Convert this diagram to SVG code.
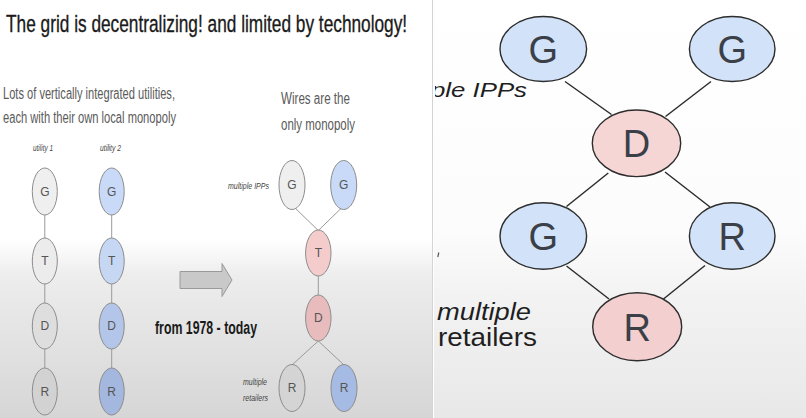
<svg xmlns="http://www.w3.org/2000/svg" width="806" height="418" viewBox="0 0 806 418">
<defs>
<linearGradient id="bgL" gradientUnits="userSpaceOnUse" x1="0" y1="0" x2="0" y2="418">
<stop offset="0" stop-color="#ffffff"/>
<stop offset="0.57" stop-color="#ffffff"/>
<stop offset="0.66" stop-color="#ededed"/>
<stop offset="1" stop-color="#d6d6d6"/>
</linearGradient>
<linearGradient id="bgR" gradientUnits="userSpaceOnUse" x1="0" y1="0" x2="0" y2="418">
<stop offset="0" stop-color="#ffffff"/>
<stop offset="0.55" stop-color="#fcfcfc"/>
<stop offset="0.7" stop-color="#f3f3f3"/>
<stop offset="1" stop-color="#e8e8e8"/>
</linearGradient>
<clipPath id="clipR"><rect x="435" y="0" width="371" height="418"/></clipPath>
<style>
.t{font-family:"Liberation Sans",Arial,sans-serif}
.sl{font-family:"Liberation Sans",Arial,sans-serif;font-size:12px;fill:#555;text-anchor:middle}
.big{stroke:#2d2d2d;stroke-width:1.4}
.bl{font-family:"Liberation Sans",Arial,sans-serif;font-size:38px;fill:#3a3f48;text-anchor:middle}
.c1{stroke:#9a9a9a;stroke-width:1;fill:none}
.c2{stroke:#2d2d2d;stroke-width:1.5;fill:none}
</style>
</defs>
<rect x="0" y="0" width="432" height="418" fill="url(#bgL)"/>
<rect x="434" y="0" width="372" height="418" fill="url(#bgR)"/>
<line x1="432.5" y1="0" x2="432.5" y2="418" stroke="#d4d4d4" stroke-width="1"/>

<text class="t" transform="translate(6,32) scale(0.705,1)" font-size="24.5" fill="#1a1a1a" stroke="#1a1a1a" stroke-width="0.35">The grid is decentralizing! and limited by technology!</text>
<text class="t" x="3" y="98.5" font-size="16" fill="#5a5a5a" textLength="172" lengthAdjust="spacingAndGlyphs">Lots of vertically integrated utilities,</text>
<text class="t" x="3" y="123" font-size="16" fill="#5a5a5a" textLength="173" lengthAdjust="spacingAndGlyphs">each with their own local monopoly</text>
<text class="t" x="281" y="103.5" font-size="16" fill="#5a5a5a" textLength="69" lengthAdjust="spacingAndGlyphs">Wires are the</text>
<text class="t" x="281" y="129.5" font-size="16" fill="#5a5a5a" textLength="74" lengthAdjust="spacingAndGlyphs">only monopoly</text>
<text class="t" x="33" y="150.5" font-size="9" font-style="italic" fill="#444" textLength="20" lengthAdjust="spacingAndGlyphs">utility 1</text>
<text class="t" x="100" y="150.5" font-size="9" font-style="italic" fill="#444" textLength="21" lengthAdjust="spacingAndGlyphs">utility 2</text>
<text class="t" x="228" y="189" font-size="8.5" font-style="italic" fill="#444" textLength="41" lengthAdjust="spacingAndGlyphs">multiple IPPs</text>
<text class="t" x="243" y="385" font-size="8.5" font-style="italic" fill="#444" textLength="24" lengthAdjust="spacingAndGlyphs">multiple</text>
<text class="t" x="243" y="401" font-size="8.5" font-style="italic" fill="#444" textLength="25" lengthAdjust="spacingAndGlyphs">retailers</text>
<text class="t" x="155" y="334" font-size="18" font-weight="bold" fill="#1a1a1a" textLength="102" lengthAdjust="spacingAndGlyphs">from 1978 - today</text>

<polygon points="180,271.5 222,271.5 222,263.5 232,280 222,296.5 222,288.5 180,288.5" fill="#c9c9c9" stroke="#9a9a9a" stroke-width="1"/>

<g id="connectors">
<line class="c1" x1="44.8" y1="215" x2="44.8" y2="238"/>
<line class="c1" x1="44.8" y1="284" x2="44.8" y2="303"/>
<line class="c1" x1="44.8" y1="349" x2="44.8" y2="368"/>
<line class="c1" x1="111.7" y1="215" x2="111.7" y2="238"/>
<line class="c1" x1="111.7" y1="284" x2="111.7" y2="303"/>
<line class="c1" x1="111.7" y1="349" x2="111.7" y2="368"/>
<line class="c1" x1="294" y1="207" x2="318.3" y2="230.5"/>
<line class="c1" x1="342.5" y1="207" x2="318.3" y2="230.5"/>
<line class="c1" x1="318.3" y1="276" x2="318.3" y2="295"/>
<line class="c1" x1="318.3" y1="341" x2="292" y2="365"/>
<line class="c1" x1="318.3" y1="341" x2="344" y2="365"/>
<line class="c2" x1="565" y1="81.5" x2="611.5" y2="114.5"/>
<line class="c2" x1="711" y1="81.5" x2="665.5" y2="116.5"/>
<line class="c2" x1="608.3" y1="173" x2="566.5" y2="206.5"/>
<line class="c2" x1="665" y1="172" x2="710" y2="207"/>
<line class="c2" x1="566.5" y1="266" x2="609" y2="299"/>
<line class="c2" x1="705" y1="265.5" x2="663.5" y2="299"/>
</g>

<g id="u1G"><ellipse cx="44.8" cy="191.5" rx="12.5" ry="23.5" fill="#efefef" stroke="#8c8c8c"/><text class="sl" x="44.8" y="195.5">G</text></g>
<g id="u1T"><ellipse cx="44.8" cy="261" rx="12.5" ry="23" fill="#ececec" stroke="#8c8c8c"/><text class="sl" x="44.8" y="265">T</text></g>
<g id="u1D"><ellipse cx="44.8" cy="326" rx="12.5" ry="23" fill="#dedede" stroke="#8c8c8c"/><text class="sl" x="44.8" y="330">D</text></g>
<g id="u1R"><ellipse cx="44.8" cy="391.5" rx="12.5" ry="23.5" fill="#d2d2d2" stroke="#8c8c8c"/><text class="sl" x="44.8" y="395.5">R</text></g>
<g id="u2G"><ellipse cx="111.7" cy="191.5" rx="12.5" ry="23.5" fill="#c9daf8" stroke="#8c8c8c"/><text class="sl" x="111.7" y="195.5">G</text></g>
<g id="u2T"><ellipse cx="111.7" cy="261" rx="12.5" ry="23" fill="#c6d7f4" stroke="#8c8c8c"/><text class="sl" x="111.7" y="265">T</text></g>
<g id="u2D"><ellipse cx="111.7" cy="326" rx="12.5" ry="23" fill="#b3c6ea" stroke="#8c8c8c"/><text class="sl" x="111.7" y="330">D</text></g>
<g id="u2R"><ellipse cx="111.7" cy="391.5" rx="12.5" ry="23.5" fill="#a3b7df" stroke="#8c8c8c"/><text class="sl" x="111.7" y="395.5">R</text></g>

<g id="mG1"><ellipse cx="292" cy="185" rx="13" ry="24.5" fill="#efefef" stroke="#8c8c8c"/><text class="sl" x="292" y="189">G</text></g>
<g id="mG2"><ellipse cx="343.7" cy="185" rx="13" ry="24.5" fill="#c9daf8" stroke="#8c8c8c"/><text class="sl" x="343.7" y="189">G</text></g>
<g id="mT"><ellipse cx="318.3" cy="253" rx="12.7" ry="23" fill="#f4cccc" stroke="#8c8c8c"/><text class="sl" x="318.3" y="257">T</text></g>
<g id="mD"><ellipse cx="318.3" cy="318" rx="12.7" ry="23" fill="#e8bcbc" stroke="#8c8c8c"/><text class="sl" x="318.3" y="322">D</text></g>
<g id="mR1"><ellipse cx="292" cy="388" rx="13" ry="23.5" fill="#d4d4d4" stroke="#8c8c8c"/><text class="sl" x="292" y="392">R</text></g>
<g id="mR2"><ellipse cx="344" cy="388" rx="13" ry="23.5" fill="#a6bbe3" stroke="#8c8c8c"/><text class="sl" x="344" y="392">R</text></g>

<g clip-path="url(#clipR)">
<text class="t" x="527" y="96.5" font-size="20" font-style="italic" fill="#1f1f1f" text-anchor="end" textLength="96" lengthAdjust="spacingAndGlyphs">ple IPPs</text>
</g>
<text class="t" x="437" y="320" font-size="23" font-style="italic" fill="#1f1f1f" textLength="94" lengthAdjust="spacingAndGlyphs">multiple</text>
<text class="t" x="438" y="346" font-size="25" fill="#1f1f1f" textLength="99" lengthAdjust="spacingAndGlyphs">retailers</text>
<line x1="438.8" y1="252.5" x2="437.8" y2="257" stroke="#555" stroke-width="1.2"/>

<g id="G1"><ellipse class="big" cx="543.3" cy="49" rx="43.3" ry="32.5" fill="#d2e2f8"/><text class="bl" x="543.3" y="62.5">G</text></g>
<g id="G2"><ellipse class="big" cx="732.2" cy="49" rx="42.8" ry="32.5" fill="#d2e2f8"/><text class="bl" x="732.2" y="62.5">G</text></g>
<g id="D"><ellipse class="big" cx="636.5" cy="143.3" rx="44.2" ry="33.3" fill="#f6d5d5"/><text class="bl" x="636.5" y="157">D</text></g>
<g id="G3"><ellipse class="big" cx="543.3" cy="236" rx="43.3" ry="33.3" fill="#d2e2f8"/><text class="bl" x="543.3" y="249.5">G</text></g>
<g id="R1"><ellipse class="big" cx="732.2" cy="236" rx="42.8" ry="33.3" fill="#d2e2f8"/><text class="bl" x="732.2" y="249.5">R</text></g>
<g id="R2"><ellipse class="big" cx="637.2" cy="326.7" rx="44.5" ry="34" fill="#f3cfcf"/><text class="bl" x="637.2" y="340.5">R</text></g>
</svg>
